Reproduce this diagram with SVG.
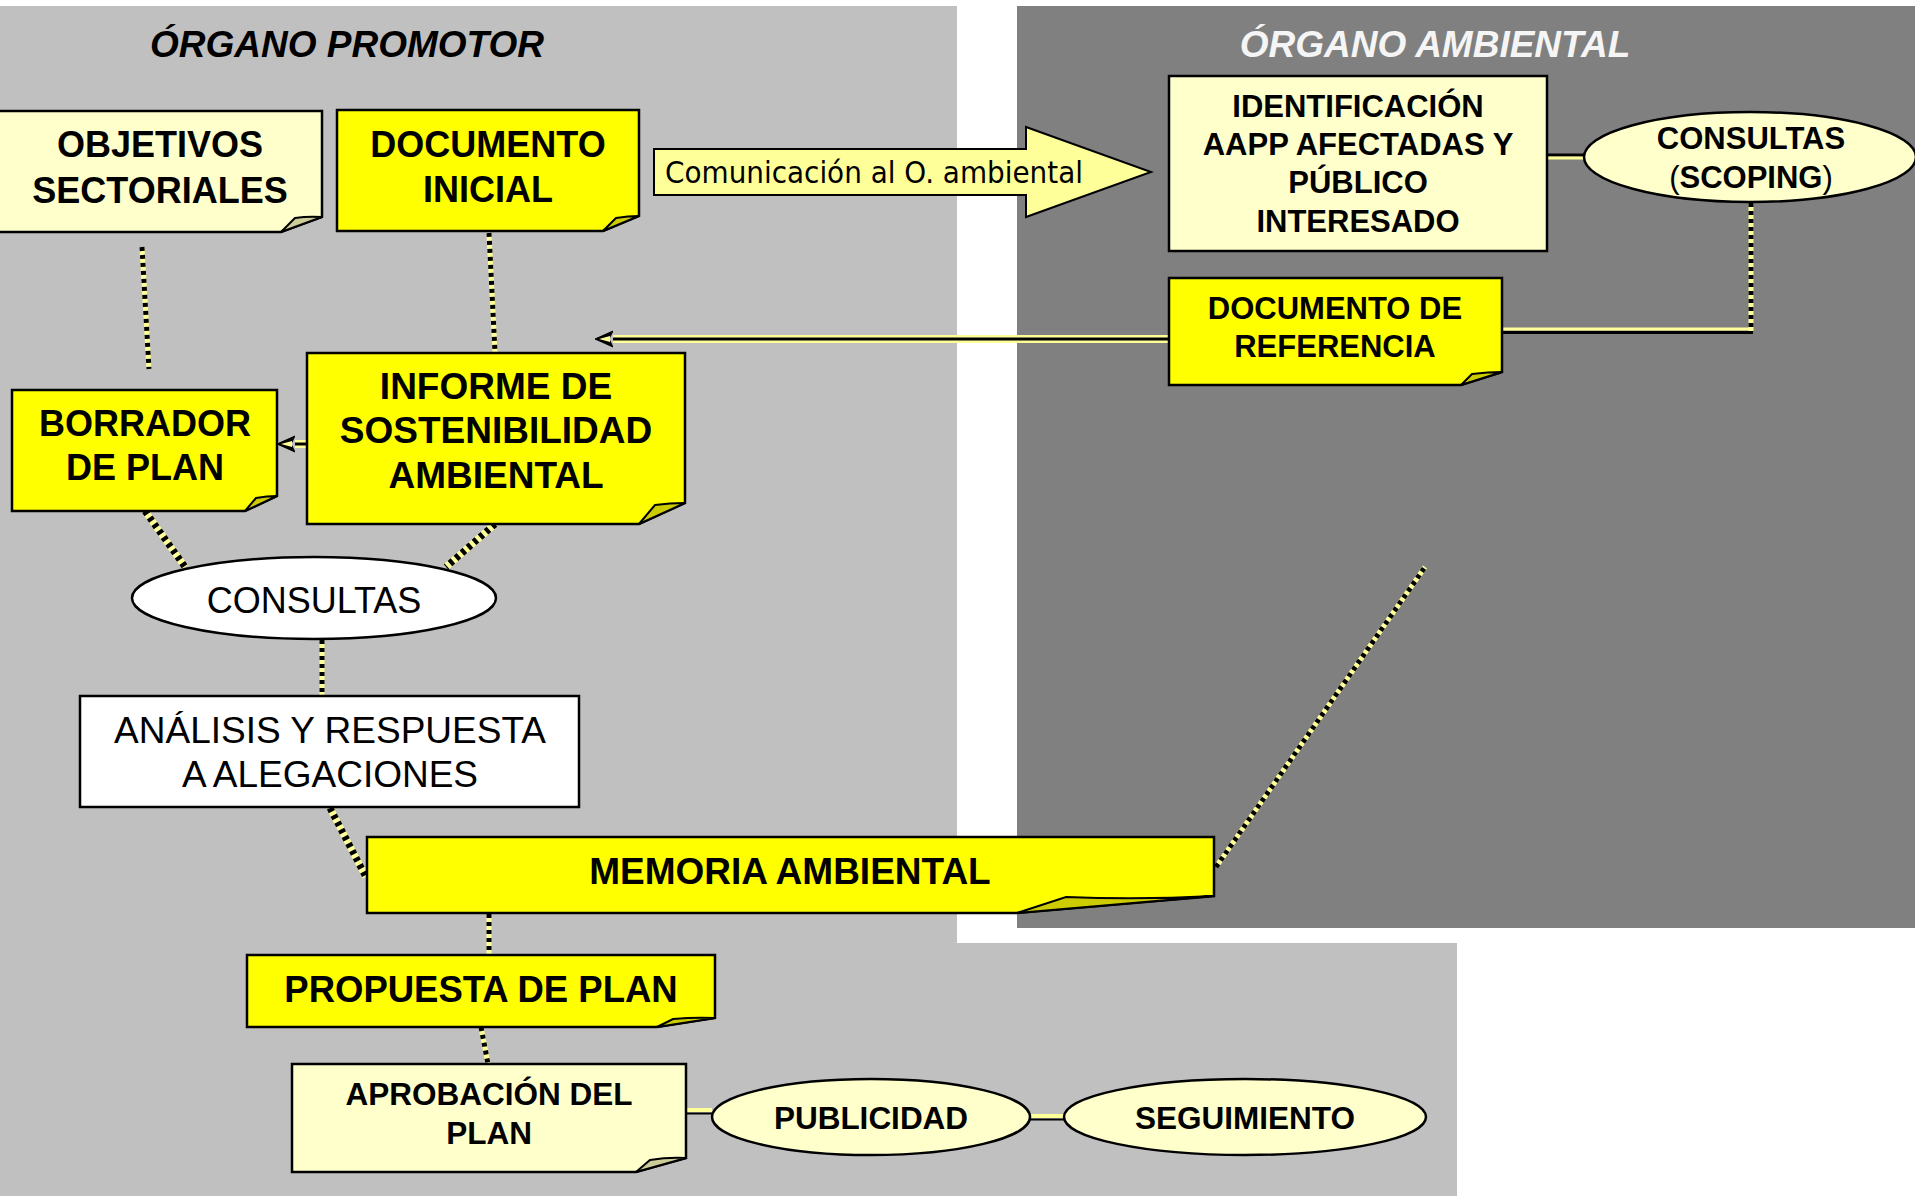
<svg xmlns="http://www.w3.org/2000/svg" width="1915" height="1196" viewBox="0 0 1915 1196">
<defs>
<style>
.t{font-family:"Liberation Sans",Arial,sans-serif;text-anchor:middle;fill:#000}
.b{font-weight:bold}
.title{font-family:"Liberation Sans",Arial,sans-serif;font-weight:bold;font-style:italic;font-size:37px;text-anchor:middle}
.box{stroke:#000;stroke-width:2.5}
.y{fill:#FFFF00}
.p{fill:#FFFFCC}
.w{fill:#FFFFFF}
.fy{fill:#CCCC00;stroke:#000;stroke-width:2}
.fp{fill:#CCCC99;stroke:#000;stroke-width:2}
.rb{stroke:#FFFF99;stroke-width:5;fill:none}
.rd{stroke:#000;stroke-width:5;stroke-dasharray:4 4;fill:none}
.rb2{stroke:#FFFF99;stroke-width:7;fill:none}
.rd2{stroke:#000;stroke-width:7;stroke-dasharray:4 4;fill:none}
.dy{stroke:#FFFF99;stroke-width:8;fill:none}
.dk{stroke:#000;stroke-width:3;fill:none}
</style>
<marker id="ah" markerUnits="userSpaceOnUse" markerWidth="22" markerHeight="20" viewBox="0 -10 22 20" refX="0" refY="0" orient="auto">
<path d="M0,-8 L18,0 L0,8 L4,0 Z" fill="#000" stroke="#000" stroke-width="1"/>
<path d="M3,-3 L14,0 L3,3 Z" fill="#FFFF99"/>
</marker>
</defs>

<g id="background">
<rect x="0" y="0" width="1915" height="1196" fill="#FFFFFF"/>
<rect x="0" y="6" width="957" height="1190" fill="#C0C0C0"/>
<rect x="1017" y="6" width="898" height="922" fill="#808080"/>
<rect x="0" y="943" width="1457" height="253" fill="#C0C0C0"/>
<text class="title" x="347" y="57" fill="#000">ÓRGANO PROMOTOR</text>
<text class="title" x="1435" y="57" fill="#F5F5F5">ÓRGANO AMBIENTAL</text>
</g>

<g id="connectors">
<line class="rb" x1="142" y1="247" x2="149" y2="369"/><line class="rd" x1="142" y1="247" x2="149" y2="369"/>
<line class="rb" x1="489" y1="233" x2="495" y2="352"/><line class="rd" x1="489" y1="233" x2="495" y2="352"/>
<line class="rb2" x1="145" y1="511" x2="185" y2="567"/><line class="rd2" x1="145" y1="511" x2="185" y2="567"/>
<line class="rb2" x1="495" y1="524" x2="446" y2="567"/><line class="rd2" x1="495" y1="524" x2="446" y2="567"/>
<line class="rb" x1="322" y1="640" x2="322" y2="698"/><line class="rd" x1="322" y1="640" x2="322" y2="698"/>
<line class="rb2" x1="330" y1="808" x2="366" y2="877"/><line class="rd2" x1="330" y1="808" x2="366" y2="877"/>
<line class="rb" x1="489" y1="914" x2="489" y2="955"/><line class="rd" x1="489" y1="914" x2="489" y2="955"/>
<line class="rb" x1="481" y1="1027" x2="488" y2="1064"/><line class="rd" x1="481" y1="1027" x2="488" y2="1064"/>
<line class="rb" x1="1216" y1="867" x2="1425" y2="567"/><line class="rd" x1="1216" y1="867" x2="1425" y2="567"/>
<line class="rb" x1="1751" y1="203" x2="1751" y2="332"/><line class="rd" x1="1751" y1="203" x2="1751" y2="332"/>
<line x1="1753" y1="329" x2="1502" y2="329" stroke="#FFFF99" stroke-width="3"/>
<line x1="1753" y1="332.5" x2="1502" y2="332.5" stroke="#000" stroke-width="3"/>
<line x1="1547" y1="155" x2="1584" y2="155" stroke="#000" stroke-width="3"/>
<line x1="1547" y1="158" x2="1584" y2="158" stroke="#FFFF99" stroke-width="3"/>
<line x1="686" y1="1110" x2="712" y2="1110" stroke="#FFFF99" stroke-width="4"/>
<line x1="686" y1="1113.5" x2="712" y2="1113.5" stroke="#000" stroke-width="2"/>
<line x1="1030" y1="1116" x2="1064" y2="1116" stroke="#FFFF99" stroke-width="4"/>
<line x1="1030" y1="1119.5" x2="1064" y2="1119.5" stroke="#000" stroke-width="2"/>
<line class="dy" x1="1169" y1="339" x2="613" y2="339"/>
<line class="dk" x1="1169" y1="339" x2="613" y2="339" marker-end="url(#ah)"/>
<line class="dy" x1="307" y1="444" x2="295" y2="444"/>
<line class="dk" x1="307" y1="444" x2="295" y2="444" marker-end="url(#ah)"/>
</g>

<g id="objetivos">
<path class="box p" d="M-2,111 H322 V217 L281,232 H-2 Z"/>
<path class="fp" d="M281,232 L295,218 Q308,216 322,217 Z"/>
<text class="t b" font-size="36" x="160" y="157">OBJETIVOS</text>
<text class="t b" font-size="36" x="160" y="203">SECTORIALES</text>
</g>

<g id="documento-inicial">
<path class="box y" d="M337,110 H639 V216 L603,231 H337 Z"/>
<path class="fy" d="M603,231 L616,218 Q628,216 639,216 Z"/>
<text class="t b" font-size="36" x="488" y="157">DOCUMENTO</text>
<text class="t b" font-size="36" x="488" y="202">INICIAL</text>
</g>

<g id="comunicacion">
<path d="M654,149 H1026 V127 L1151,172 L1026,217 V195 H654 Z" fill="#FFFF99" stroke="#000" stroke-width="2"/>
<text font-family="DejaVu Sans,sans-serif" font-size="30" x="665" y="183" textLength="418" lengthAdjust="spacingAndGlyphs">Comunicación al O. ambiental</text>
</g>

<g id="identificacion">
<rect class="box p" x="1169" y="76" width="378" height="175"/>
<text class="t b" font-size="31" x="1358" y="117">IDENTIFICACIÓN</text>
<text class="t b" font-size="31" x="1358" y="155">AAPP AFECTADAS Y</text>
<text class="t b" font-size="31" x="1358" y="193">PÚBLICO</text>
<text class="t b" font-size="31" x="1358" y="232">INTERESADO</text>
</g>

<g id="consultas-scoping">
<ellipse class="box p" cx="1750" cy="157" rx="166" ry="45"/>
<text class="t b" font-size="31" x="1751" y="149">CONSULTAS</text>
<text class="t b" font-size="31" x="1751" y="188"><tspan font-weight="normal">(</tspan>SCOPING<tspan font-weight="normal">)</tspan></text>
</g>

<g id="documento-referencia">
<path class="box y" d="M1169,278 H1502 V372 L1461,385 H1169 Z"/>
<path class="fy" d="M1461,385 L1472,374 Q1488,372 1502,372 Z"/>
<text class="t b" font-size="31" x="1335" y="319">DOCUMENTO DE</text>
<text class="t b" font-size="31" x="1335" y="357">REFERENCIA</text>
</g>

<g id="borrador">
<path class="box y" d="M12,390 H277 V496 L245,511 H12 Z"/>
<path class="fy" d="M245,511 L256,498 Q267,496 277,496 Z"/>
<text class="t b" font-size="36" x="145" y="436">BORRADOR</text>
<text class="t b" font-size="36" x="145" y="480">DE PLAN</text>
</g>

<g id="informe">
<path class="box y" d="M307,353 H685 V503 L639,524 H307 Z"/>
<path class="fy" d="M639,524 L655,505 Q670,503 685,503 Z"/>
<text class="t b" font-size="37" x="496" y="399">INFORME DE</text>
<text class="t b" font-size="37" x="496" y="443">SOSTENIBILIDAD</text>
<text class="t b" font-size="37" x="496" y="488">AMBIENTAL</text>
</g>

<g id="consultas">
<ellipse class="box w" cx="314" cy="598" rx="182" ry="41"/>
<text class="t" font-size="36" x="314" y="613">CONSULTAS</text>
</g>

<g id="analisis">
<rect class="box w" x="80" y="696" width="499" height="111"/>
<text class="t" font-size="37" x="330" y="743">ANÁLISIS Y RESPUESTA</text>
<text class="t" font-size="37" x="330" y="787">A ALEGACIONES</text>
</g>

<g id="memoria">
<path class="box y" d="M367,837 H1214 V896 L1017,913 H367 Z"/>
<path class="fy" d="M1017,913 L1066,897 Q1140,900 1214,896 Z"/>
<text class="t b" font-size="37" x="790" y="884">MEMORIA AMBIENTAL</text>
</g>

<g id="propuesta">
<path class="box y" d="M247,955 H715 V1018 L657,1027 H247 Z"/>
<path class="fy" d="M657,1027 L673,1019 Q695,1017 715,1018 Z"/>
<text class="t b" font-size="36.5" x="481" y="1002">PROPUESTA DE PLAN</text>
</g>

<g id="aprobacion">
<path class="box p" d="M292,1064 H686 V1158 L636,1172 H292 Z"/>
<path class="fp" d="M636,1172 L650,1160 Q668,1157 686,1158 Z"/>
<text class="t b" font-size="31.5" x="489" y="1105">APROBACIÓN DEL</text>
<text class="t b" font-size="31.5" x="489" y="1144">PLAN</text>
</g>

<g id="publicidad">
<ellipse class="box p" cx="871" cy="1117" rx="159" ry="38"/>
<text class="t b" font-size="31.5" x="871" y="1129">PUBLICIDAD</text>
</g>

<g id="seguimiento">
<ellipse class="box p" cx="1245" cy="1117" rx="181" ry="38"/>
<text class="t b" font-size="31.5" x="1245" y="1129">SEGUIMIENTO</text>
</g>
</svg>
